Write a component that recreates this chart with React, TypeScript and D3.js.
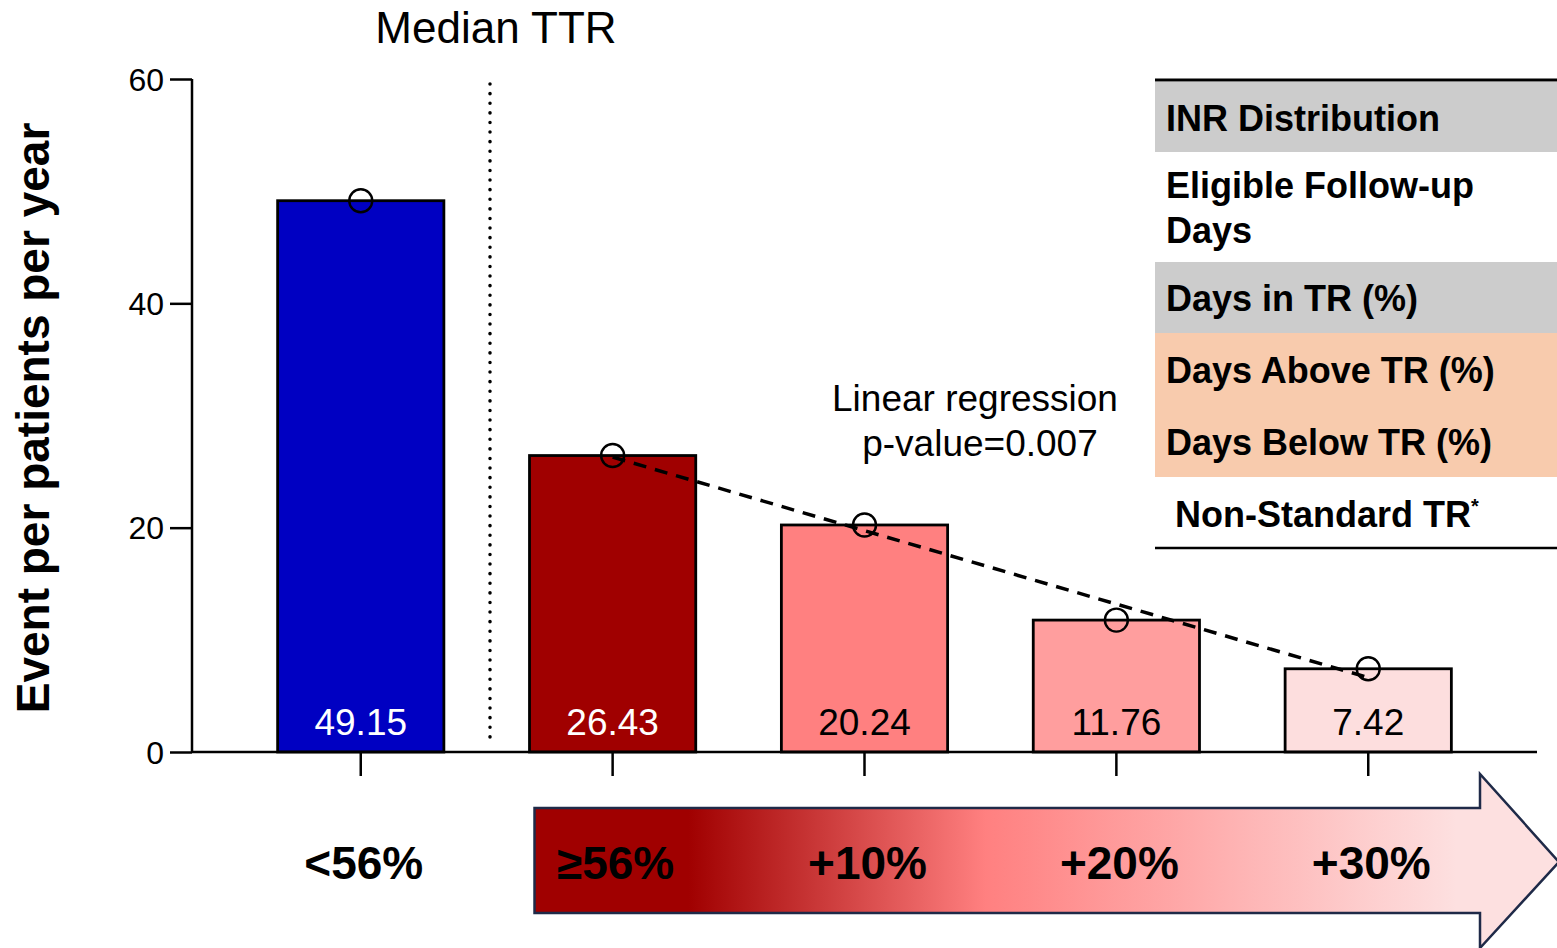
import React, { useRef, useEffect } from "react";
import * as d3 from "d3";

// data
const categories = ["<56%", "≥56%", "+10%", "+20%", "+30%"];
const eventRates = [49.15, 26.43, 20.24, 11.76, 7.42];
const barColors = ["#0000c2", "#a00000", "#ff8080", "#ff9e9e", "#fddede"];
const labelColors = ["#ffffff", "#ffffff", "#000000", "#000000", "#000000"];
const yTicks = [0, 20, 40, 60];
const tableRows = [
  { lines: ["INR Distribution"], fill: "#cccccc" },
  { lines: ["Eligible Follow-up", "Days"], fill: "#ffffff" },
  { lines: ["Days in TR (%)"], fill: "#cccccc" },
  { lines: ["Days Above TR (%)", "Days Below TR (%)"], fill: "#f8cbad" },
  { lines: ["Non-Standard TR"], fill: "#ffffff", star: true },
];

const FONT = "'Liberation Sans', Arial, Helvetica, sans-serif";

export default function App() {
  const ref = useRef<SVGSVGElement>(null);
  const width = 1557;
  const height = 948;

  useEffect(() => {
    const svg = d3.select(ref.current);
    svg.selectAll("*").remove(); // clear before redraw

    const x = d3.scaleBand().domain(categories).range([192, 1537]).paddingInner(0.34).paddingOuter(0.34);
    const y = d3.scaleLinear().domain([0, 60]).range([752, 79]);

    // gradient for the arrow
    const defs = svg.append("defs");
    const grad = defs.append("linearGradient").attr("id", "arrowGrad")
      .attr("x1", "0").attr("x2", "1").attr("y1", "0").attr("y2", "0");
    [[0, "#a00000"], [0.15, "#a00000"], [0.44, "#ff8080"], [0.9, "#fde0e0"], [1, "#fde0e0"]]
      .forEach(([o, c]) => grad.append("stop").attr("offset", o as number).attr("stop-color", c as string));

    // table on the right
    const tx = 1155;
    const rowTops = [82, 152, 262, 333, 477, 548];
    const baselines = [[131], [198, 243], [311], [383, 455], [527]];
    const tg = svg.append("g");
    tableRows.forEach((r, i) => {
      if (r.fill !== "#ffffff")
        tg.append("rect").attr("x", tx).attr("y", rowTops[i]).attr("width", width - tx)
          .attr("height", rowTops[i + 1] - rowTops[i]).attr("fill", r.fill);
      r.lines.forEach((ln, j) => {
        const t = tg.append("text").attr("x", r.star ? tx + 20 : tx + 11).attr("y", baselines[i][j])
          .attr("font-family", FONT).attr("font-weight", "bold").attr("font-size", 36).text(ln);
        if (r.star) t.append("tspan").attr("font-size", 20).attr("dy", -14).text("*");
      });
    });
    tg.append("line").attr("x1", tx).attr("x2", width).attr("y1", 80).attr("y2", 80).attr("stroke", "#000").attr("stroke-width", 3);
    tg.append("line").attr("x1", tx).attr("x2", width).attr("y1", 548).attr("y2", 548).attr("stroke", "#000").attr("stroke-width", 2.5);

    // bars
    svg.append("g").selectAll("rect").data(eventRates).join("rect")
      .attr("x", (d, i) => x(categories[i])!)
      .attr("y", d => y(d))
      .attr("width", x.bandwidth())
      .attr("height", d => y(0) - y(d))
      .attr("fill", (d, i) => barColors[i])
      .attr("stroke", "#000").attr("stroke-width", 2.8);

    // value labels
    svg.append("g").selectAll("text").data(eventRates).join("text")
      .attr("x", (d, i) => x(categories[i])! + x.bandwidth() / 2)
      .attr("y", y(0) - 17)
      .attr("text-anchor", "middle").attr("font-family", FONT).attr("font-size", 37)
      .attr("fill", (d, i) => labelColors[i])
      .text(d => d.toFixed(2));

    // dotted median line
    svg.append("line").attr("x1", 490).attr("x2", 490).attr("y1", 84).attr("y2", 746)
      .attr("stroke", "#000").attr("stroke-width", 3.5).attr("stroke-linecap", "round").attr("stroke-dasharray", "0.1,9.5");

    // linear regression over the TTR >= 56% groups
    const pts = eventRates.slice(1).map((v, i) => [i, v]);
    const mx = d3.mean(pts, p => p[0])!;
    const my = d3.mean(pts, p => p[1])!;
    const slope = d3.sum(pts, p => (p[0] - mx) * (p[1] - my)) / d3.sum(pts, p => (p[0] - mx) ** 2);
    const icpt = my - slope * mx;
    const cx = (i: number) => x(categories[i])! + x.bandwidth() / 2;
    svg.append("line")
      .attr("x1", cx(1)).attr("y1", y(icpt))
      .attr("x2", cx(4)).attr("y2", y(icpt + slope * 3))
      .attr("stroke", "#000").attr("stroke-width", 3.5).attr("stroke-dasharray", "13,9");

    // circles
    svg.append("g").selectAll("circle").data(eventRates).join("circle")
      .attr("cx", (d, i) => cx(i)).attr("cy", d => y(d)).attr("r", 11.5)
      .attr("fill", "none").attr("stroke", "#000").attr("stroke-width", 2.4);

    // y axis
    const ya = svg.append("g").attr("transform", "translate(192,0)")
      .call(d3.axisLeft(y).tickValues(yTicks).tickSize(22).tickPadding(6).tickFormat(d3.format("d")));
    ya.select(".domain").attr("stroke-width", 2.5).attr("d", `M0,${y(60)}V${y(0)}`);
    ya.selectAll(".tick line").attr("stroke-width", 2.5);
    ya.selectAll(".tick text").attr("font-family", FONT).attr("font-size", 32).attr("fill", "#000").attr("dy", "0.35em");

    // x axis
    const xa = svg.append("g").attr("transform", `translate(0,${y(0)})`)
      .call(d3.axisBottom(x).tickSize(24).tickFormat(() => ""));
    xa.select(".domain").attr("stroke-width", 2.5).attr("d", `M192,0H1537`);
    xa.selectAll(".tick line").attr("stroke-width", 2.5);

    // arrow
    const ax0 = x(categories[1])! + 5;
    const ax1 = 1480;
    const path = d3.path();
    path.moveTo(ax0, 808);
    path.lineTo(ax1, 808);
    path.lineTo(ax1, 774);
    path.lineTo(width + 2, 862);
    path.lineTo(ax1, 948);
    path.lineTo(ax1, 913);
    path.lineTo(ax0, 913);
    path.closePath();
    svg.append("path").attr("d", path.toString()).attr("fill", "url(#arrowGrad)")
      .attr("stroke", "#1f2a48").attr("stroke-width", 2.5);

    // category labels
    svg.append("g").selectAll("text").data(categories).join("text")
      .attr("x", d => x(d)! + x.bandwidth() / 2 + 3)
      .attr("y", 879)
      .attr("text-anchor", "middle").attr("font-family", FONT).attr("font-weight", "bold").attr("font-size", 46)
      .text(d => d);

    // titles and annotations
    svg.append("text").attr("x", 496).attr("y", 43).attr("text-anchor", "middle")
      .attr("font-family", FONT).attr("font-size", 44).text("Median TTR");
    svg.append("text").attr("x", 975).attr("y", 411).attr("text-anchor", "middle")
      .attr("font-family", FONT).attr("font-size", 37).text("Linear regression");
    svg.append("text").attr("x", 980).attr("y", 456).attr("text-anchor", "middle")
      .attr("font-family", FONT).attr("font-size", 37).text("p-value=0.007");
    svg.append("text").attr("transform", "translate(49,418) rotate(-90)").attr("text-anchor", "middle")
      .attr("font-family", FONT).attr("font-weight", "bold").attr("font-size", 46)
      .text("Event per patients per year");
  }, []);

  return (
    <div style={{ position: "absolute", left: 0, top: 0 }}>
      <svg ref={ref} width={width} height={height} style={{ display: "block", background: "#fff" }}></svg>
    </div>
  );
}
